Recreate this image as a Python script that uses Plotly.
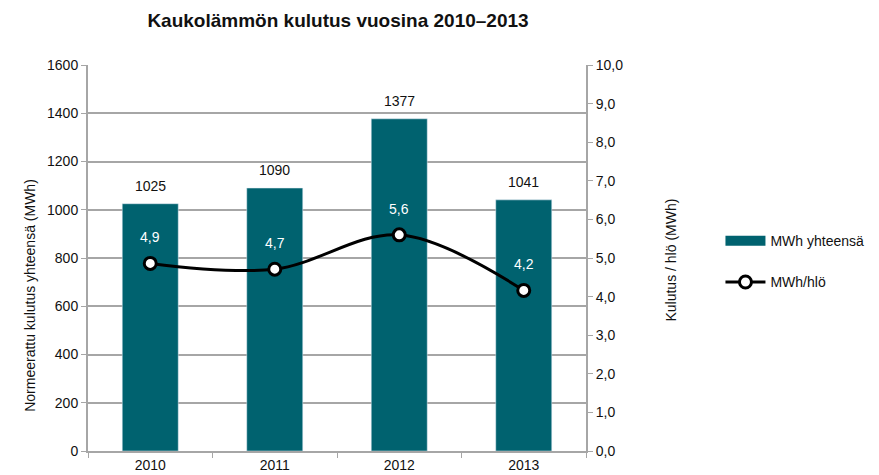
import plotly.graph_objects as go

years = ["2010", "2011", "2012", "2013"]
mwh_total = [1025, 1090, 1377, 1041]
mwh_per_person = [4.86, 4.71, 5.6, 4.16]

title = "Kaukolämmön kulutus vuosina 2010–2013"
left_title = "Normeerattu kulutus yhteensä (MWh)"
right_title = "Kulutus / hlö (MWh)"
bar_name = "MWh yhteensä"
line_name = "MWh/hlö"

font = "Liberation Sans, Arial, sans-serif"
grid = "#a6a6a6"
teal = "#00626F"
FS = 14

W, H = 871, 467  # page body has an 8px margin

fig = go.Figure()
fig.add_trace(go.Bar(
    x=years, y=mwh_total, name=bar_name, marker_color=teal,
    width=0.45, showlegend=False,
))
fig.add_trace(go.Scatter(
    x=years, y=mwh_per_person, name=line_name, yaxis="y2",
    mode="lines+markers", line=dict(color="black", width=3, shape="spline"),
    marker=dict(size=12, color="white", line=dict(color="black", width=3)),
    showlegend=False,
))
# legend-only entries
fig.add_trace(go.Scatter(
    x=[years[0]], y=[None], name=bar_name, mode="lines", legendgroup="a",
    line=dict(color=teal, width=10),
))
fig.add_trace(go.Scatter(
    x=[years[0]], y=[None], name=line_name, mode="lines+markers", yaxis="y2",
    legendgroup="b",
    line=dict(color="black", width=3),
    marker=dict(size=12, color="white", line=dict(color="black", width=3)),
))

annotations = []
for i, v in enumerate(mwh_total):
    annotations.append(dict(x=i, y=v, xref="x", yref="y", text=str(v),
                            showarrow=False, yshift=18,
                            font=dict(size=FS, color="#111")))
for i, v in enumerate(mwh_per_person):
    annotations.append(dict(x=i, y=v, xref="x", yref="y2",
                            text=f"{v:.1f}".replace(".", ","),
                            showarrow=False, yshift=26,
                            font=dict(size=FS, color="white")))
annotations += [
    dict(text=left_title, textangle=-90, xref="paper", yref="paper",
         x=-0.137, y=0.404, showarrow=False, font=dict(size=FS)),
    dict(text=right_title, textangle=-90, xref="paper", yref="paper",
         x=1.19, y=0.495, showarrow=False, font=dict(size=FS)),
]

fig.update_layout(
    width=W, height=H,
    margin=dict(l=80, r=293, t=57, b=24, autoexpand=False),
    paper_bgcolor="white", plot_bgcolor="white",
    separators=", ",
    font=dict(family=font, size=FS, color="#111"),
    title=dict(text="<b>" + title + "</b>", x=330 / W, xanchor="center",
               y=1 - 12 / H, yanchor="middle", font=dict(size=19)),
    showlegend=True,
    legend=dict(x=1.27, y=0.585, xanchor="left", yanchor="top",
                font=dict(size=FS), tracegroupgap=20, itemwidth=40,
                bgcolor="rgba(0,0,0,0)"),
    xaxis=dict(type="category", categoryorder="array", categoryarray=years,
               range=[-0.5, len(years) - 0.5],
               showline=True, linecolor=grid, linewidth=2,
               ticks="outside", tickson="boundaries", ticklen=5, tickcolor=grid,
               showgrid=False, tickfont=dict(size=FS)),
    yaxis=dict(range=[0, 1600], dtick=200, showline=True, linecolor=grid, linewidth=2,
               ticks="outside", ticklen=5, tickcolor=grid, showgrid=True,
               gridcolor=grid, gridwidth=2, zeroline=False, tickfont=dict(size=FS)),
    yaxis2=dict(range=[0, 10], dtick=1, overlaying="y", side="right",
                tickformat=".1f", showline=True, linecolor=grid, linewidth=2,
                ticks="outside", ticklen=5, tickcolor=grid, showgrid=False,
                zeroline=False, tickfont=dict(size=FS)),
    annotations=annotations,
)
fig.write_html("out.html")
